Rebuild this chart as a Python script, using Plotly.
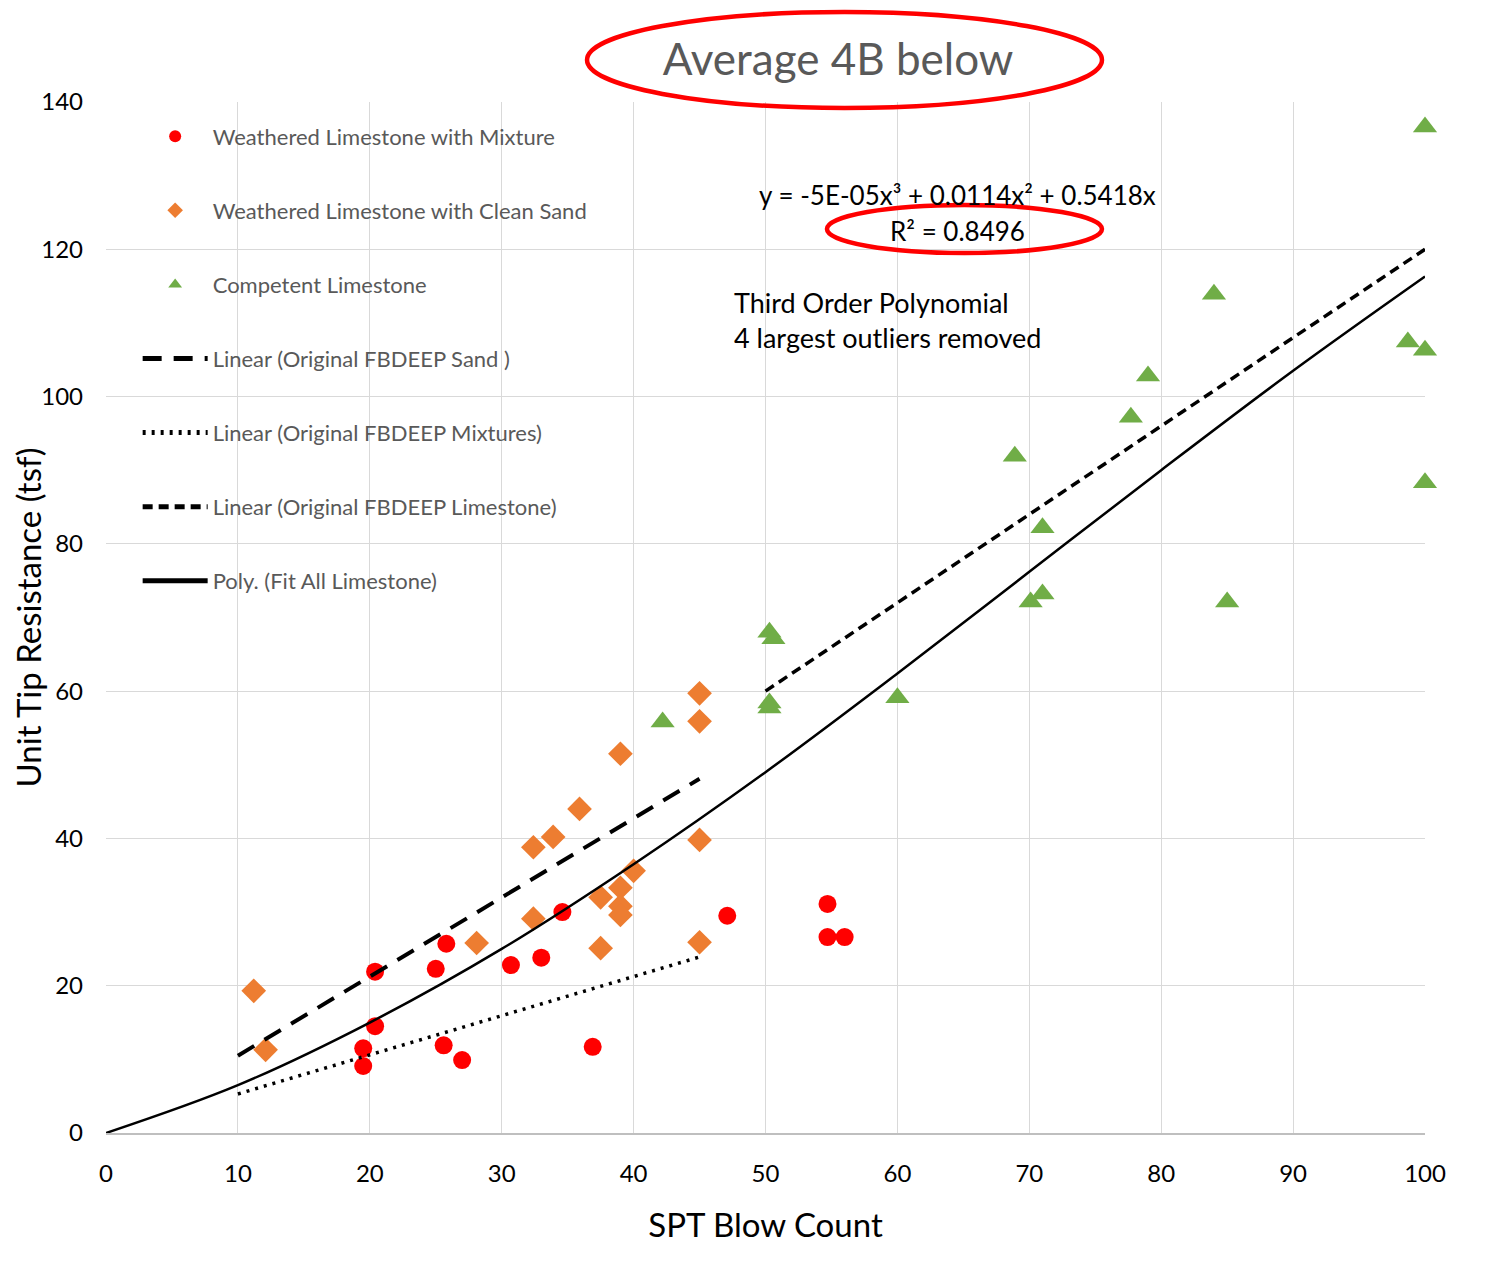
import plotly.graph_objects as go

# ---- data ----
mix_x = [20.4, 25.8, 25.0, 34.6, 30.7, 33.0, 20.4, 19.5, 19.5, 25.6, 27.0, 36.9, 47.1, 54.7, 54.7, 56.0]
mix_y = [21.9, 25.7, 22.3, 30.0, 22.8, 23.8, 14.5, 11.5, 9.1, 11.9, 9.9, 11.7, 29.5, 31.1, 26.6, 26.6]

sand_x = [11.2, 12.1, 28.1, 32.4, 33.9, 35.9, 39.0, 45.0, 45.0, 45.0, 45.0, 32.4, 37.5, 37.5, 39.0, 39.0, 39.0, 40.0]
sand_y = [19.3, 11.3, 25.8, 38.8, 40.2, 44.0, 51.5, 59.7, 55.9, 39.8, 25.9, 29.1, 32.0, 25.1, 33.3, 30.8, 29.6, 35.6]

lime_x = [42.2, 50.3, 50.6, 50.3, 50.3, 60.0, 68.9, 70.1, 71.0, 71.0, 77.7, 79.0, 84.0, 85.0, 98.7, 100.0, 100.0, 100.0]
lime_y = [55.8, 68.0, 67.1, 58.4, 57.7, 59.1, 91.9, 72.1, 73.2, 82.2, 97.2, 102.8, 113.9, 72.1, 107.4, 106.3, 88.3, 136.6]

lin_sand_x = [10, 45]
lin_sand_y = [10.5, 48.1]
lin_mix_x = [10, 45]
lin_mix_y = [5.3, 23.9]
lin_lime_x = [50, 100]
lin_lime_y = [60.0, 120.0]
poly_x = [0, 10, 20, 30, 40, 50, 60, 70, 80, 90, 100]
poly_y = [0, 6.5, 15.0, 25.0, 36.5, 49.0, 62.4, 76.2, 90.0, 103.5, 116.3]

x_ticks = [0, 10, 20, 30, 40, 50, 60, 70, 80, 90, 100]
y_ticks = [0, 20, 40, 60, 80, 100, 120, 140]

FONT = "Lato"

fig = go.Figure()
fig.add_trace(go.Scatter(x=mix_x, y=mix_y, mode="markers", name="Weathered Limestone with Mixture",
                         legendgroup="a", cliponaxis=False,
                         marker=dict(symbol="circle", size=18, color="#FF0000")))
fig.add_trace(go.Scatter(x=sand_x, y=sand_y, mode="markers", name="Weathered Limestone with Clean Sand",
                         legendgroup="b", cliponaxis=False,
                         marker=dict(symbol="diamond", size=19, color="#ED7D31")))
fig.add_trace(go.Scatter(x=lime_x, y=lime_y, mode="markers", name="Competent Limestone",
                         legendgroup="c", cliponaxis=False,
                         marker=dict(symbol="triangle-up", size=21, color="#70AD47")))
fig.add_trace(go.Scatter(x=lin_sand_x, y=lin_sand_y, mode="lines", name="Linear (Original FBDEEP Sand )",
                         legendgroup="d",
                         line=dict(color="black", width=4, dash="19px,12px")))
fig.add_trace(go.Scatter(x=lin_mix_x, y=lin_mix_y, mode="lines", name="Linear (Original FBDEEP Mixtures)",
                         legendgroup="e",
                         line=dict(color="black", width=3.5, dash="3px,6px")))
fig.add_trace(go.Scatter(x=lin_lime_x, y=lin_lime_y, mode="lines", name="Linear (Original FBDEEP Limestone)",
                         legendgroup="f",
                         line=dict(color="black", width=3.5, dash="10px,6px")))
fig.add_trace(go.Scatter(x=poly_x, y=poly_y, mode="lines", name="Poly. (Fit All Limestone)",
                         legendgroup="g",
                         line=dict(color="black", width=2.5, shape="spline")))

fig.update_layout(
    width=1510, height=1268,
    margin=dict(l=98, r=93, t=94, b=143),
    paper_bgcolor="white", plot_bgcolor="white",
    font=dict(family=FONT, color="#000000"),
    title=dict(text="Average 4B below", x=0.5497, xanchor="center", y=0.959, yanchor="middle",
               font=dict(family=FONT, size=44, color="#595959")),
    showlegend=True,
    legend=dict(x=0.024, xanchor="left", y=0.987, yanchor="top",
                bgcolor="rgba(255,255,255,0)", font=dict(family=FONT, size=22, color="#595959"),
                itemsizing="constant", itemwidth=65, tracegroupgap=42.5),
    xaxis=dict(range=[0, 100], tickvals=x_ticks, showgrid=True, gridcolor="#D9D9D9", gridwidth=1,
               zeroline=False, showline=True, linecolor="#BFBFBF", linewidth=1.5, automargin=False,
               ticks="", tickfont=dict(family=FONT, size=24, color="#000000"), ticklabelstandoff=18,
               title=dict(text="SPT Blow Count", font=dict(family=FONT, size=33, color="#000000"), standoff=28)),
    yaxis=dict(range=[0, 140], tickvals=y_ticks, showgrid=True, gridcolor="#D9D9D9", gridwidth=1,
               zeroline=False, showline=False, automargin=False,
               ticks="", tickfont=dict(family=FONT, size=24, color="#000000"), ticklabelstandoff=22,
               title=dict(text="Unit Tip Resistance (tsf)", font=dict(family=FONT, size=33, color="#000000"), standoff=14)),
)

# equation and notes
fig.add_annotation(xref="paper", yref="paper", x=0.6457, y=0.9098, xanchor="center", yanchor="middle",
                   text="y = -5E-05x³ + 0.0114x² + 0.5418x", showarrow=False,
                   font=dict(family=FONT, size=26, color="#000000"))
fig.add_annotation(xref="paper", yref="paper", x=0.6457, y=0.8749, xanchor="center", yanchor="middle",
                   text="R² = 0.8496", showarrow=False,
                   font=dict(family=FONT, size=26, color="#000000"))
fig.add_annotation(xref="paper", yref="paper", x=0.4746, y=0.8060, xanchor="left", yanchor="middle",
                   text="Third Order Polynomial", showarrow=False,
                   font=dict(family=FONT, size=27, color="#000000"))
fig.add_annotation(xref="paper", yref="paper", x=0.4746, y=0.7711, xanchor="left", yanchor="middle",
                   text="4 largest outliers removed", showarrow=False,
                   font=dict(family=FONT, size=27, color="#000000"))

# red ellipses
fig.add_shape(type="circle", xref="paper", yref="paper", x0=0.3647, x1=0.7551, y0=0.9942, y1=1.0873,
              line=dict(color="#FF0000", width=4.5))
fig.add_shape(type="circle", xref="paper", yref="paper", x0=0.5466, x1=0.7551, y0=0.8535, y1=0.9001,
              line=dict(color="#FF0000", width=4.5))

fig.write_html("out.html")
